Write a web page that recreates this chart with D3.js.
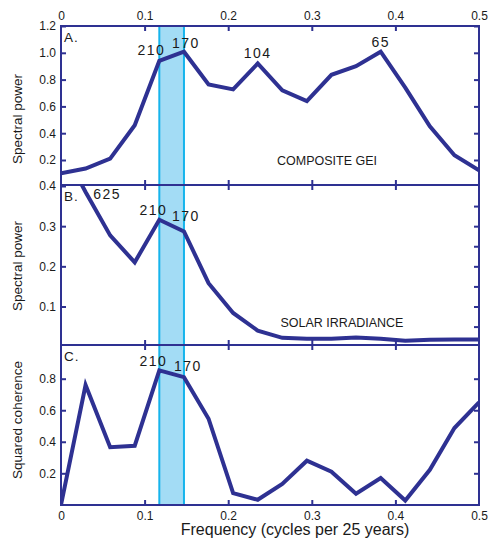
<!DOCTYPE html>
<html>
<head>
<meta charset="utf-8">
<script src="https://cdn.jsdelivr.net/npm/d3@7"></script>
<style>
  html, body { margin: 0; padding: 0; background: #fff; }
  svg { display: block; font-family: "Liberation Sans", Arial, Helvetica, sans-serif; }
</style>
</head>
<body>
<svg id="chart" width="491" height="539"></svg>
<script>
// frequencies, cycles per 25 years
const freq = [0, 0.0294, 0.0588, 0.0882, 0.1176, 0.1471, 0.1765, 0.2059, 0.2353,
  0.2647, 0.2941, 0.3235, 0.3529, 0.3824, 0.4118, 0.4412, 0.4706, 0.5];

const compositeGei = [0.10, 0.136, 0.21, 0.46, 0.94, 1.008, 0.764, 0.727, 0.92,
  0.72, 0.64, 0.836, 0.90, 1.008, 0.74, 0.452, 0.235, 0.123];
const solarIrradiance = [0.5, 0.385, 0.277, 0.21, 0.316, 0.287, 0.158, 0.084, 0.04,
  0.022, 0.02, 0.02, 0.023, 0.02, 0.015, 0.017, 0.018, 0.018];
const coherence = [0, 0.76, 0.366, 0.375, 0.853, 0.81, 0.546, 0.074, 0.032,
  0.133, 0.28, 0.21, 0.07, 0.17, 0.027, 0.222, 0.487, 0.65];

const band = [0.1176, 0.1471]; // 210 - 170 year band
const xTicks = [0, 0.1, 0.2, 0.3, 0.4, 0.5];
const xTickLabels = ["0", "0.1", "0.2", "0.3", "0.4", "0.5"];
const yTicksA = [0.2, 0.4, 0.6, 0.8, 1.0, 1.2];
const yTicksB = [0.1, 0.2, 0.3, 0.4];
const yTicksBRight = [0.05, 0.1, 0.15, 0.2, 0.25, 0.3, 0.35];
const yTicksC = [0.2, 0.4, 0.6, 0.8];

const labelsA = [
  { text: "210", i: 4, dx: -8, dy: -6 },
  { text: "170", i: 5, dx: 2, dy: -4 },
  { text: "104", i: 8, dx: 0, dy: -6 },
  { text: "65", i: 13, dx: 0, dy: -5 }
];
const labelsB = [
  { text: "625", i: 2, dx: -3, dy: -36 },
  { text: "210", i: 4, dx: -6, dy: -5 },
  { text: "170", i: 5, dx: 2, dy: -10 }
];
const labelsC = [
  { text: "210", i: 4, dx: -6, dy: -4 },
  { text: "170", i: 5, dx: 4, dy: -6 }
];

const ink = "#2e3192";
const left = 61, right = 479;
const svg = d3.select("#chart");

const x = d3.scaleLinear().domain([0, 0.5]).range([left, right]);

const panels = [
  { id: "A", top: 26, bottom: 185, y: d3.scaleLinear().domain([0.2, 1.2]).range([160, 26]),
    data: compositeGei, ticks: yTicksA, rticks: yTicksA, labels: labelsA,
    note: "COMPOSITE GEI", noteX: 327, noteY: 165, title: "Spectral power", titleY: 119 },
  { id: "B", top: 185, bottom: 345, y: d3.scaleLinear().domain([0.1, 0.4]).range([306.5, 186]),
    data: solarIrradiance, ticks: yTicksB, rticks: yTicksBRight, labels: labelsB,
    note: "SOLAR IRRADIANCE", noteX: 342, noteY: 327, title: "Spectral power", titleY: 266 },
  { id: "C", top: 345, bottom: 505, y: d3.scaleLinear().domain([0.2, 0.8]).range([473.3, 378.7]),
    data: coherence, ticks: yTicksC, rticks: yTicksC, labels: labelsC,
    note: null, title: "Squared coherence", titleY: 420 }
];

// highlighted band through all three panels
svg.append("rect")
  .attr("x", x(band[0]))
  .attr("y", panels[0].top)
  .attr("width", x(band[1]) - x(band[0]))
  .attr("height", panels[2].bottom - panels[0].top)
  .attr("fill", "#a3dcf5");
band.forEach(f => {
  svg.append("line")
    .attr("x1", x(f)).attr("x2", x(f))
    .attr("y1", panels[0].top).attr("y2", panels[2].bottom)
    .attr("stroke", "#16b4ec").attr("stroke-width", 2);
});

const fmt = d3.format(".1f");

panels.forEach(p => {
  const g = svg.append("g");

  g.append("clipPath").attr("id", "clip" + p.id)
    .append("rect").attr("x", left).attr("y", p.top)
    .attr("width", right - left).attr("height", p.bottom - p.top);

  const line = d3.line().x((d, i) => x(freq[i])).y(d => p.y(d));
  g.append("path")
    .datum(p.data)
    .attr("clip-path", "url(#clip" + p.id + ")")
    .attr("d", line)
    .attr("fill", "none")
    .attr("stroke", ink)
    .attr("stroke-width", 4)
    .attr("stroke-linejoin", "miter");

  // panel letter on white patch
  g.append("rect").attr("x", left + 1).attr("y", p.top + 2)
    .attr("width", 18).attr("height", 17).attr("fill", "#fff");
  g.append("text").attr("x", left + 3).attr("y", p.top + 16)
    .attr("font-size", 13.5).attr("letter-spacing", 1).attr("fill", "#1a1a1a")
    .text(p.id + ".");

  // peak labels
  g.selectAll(".peak")
    .data(p.labels)
    .join("text")
    .attr("x", d => x(freq[d.i]) + d.dx)
    .attr("y", d => p.y(p.data[d.i]) + d.dy)
    .attr("text-anchor", "middle")
    .attr("font-size", 14)
    .attr("letter-spacing", 1.5)
    .attr("fill", "#1a1a1a")
    .text(d => d.text);

  if (p.note) {
    g.append("text").attr("x", p.noteX).attr("y", p.noteY)
      .attr("text-anchor", "middle").attr("font-size", 12.5).attr("fill", "#1a1a1a")
      .text(p.note);
  }

  // y axis title
  g.append("text")
    .attr("transform", `translate(22,${p.titleY}) rotate(-90)`)
    .attr("text-anchor", "middle")
    .attr("font-size", 13.5)
    .attr("fill", "#1a1a1a")
    .text(p.title);

  // axes
  const leftAxis = g.append("g").attr("transform", `translate(${left},0)`)
    .call(d3.axisLeft(p.y).tickValues(p.ticks).tickSize(-5).tickPadding(5).tickFormat(fmt));
  const rightAxis = g.append("g").attr("transform", `translate(${right},0)`)
    .call(d3.axisRight(p.y).tickValues(p.rticks).tickSize(-5).tickFormat(""));
  const topAxis = g.append("g").attr("transform", `translate(0,${p.top})`)
    .call(d3.axisTop(x).tickValues(xTicks.slice(1, 5)).tickSize(-5).tickFormat(""));
  const bottomAxis = g.append("g").attr("transform", `translate(0,${p.bottom})`)
    .call(d3.axisBottom(x).tickValues(xTicks.slice(1, 5)).tickSize(-5).tickFormat(""));

  [leftAxis, rightAxis, topAxis, bottomAxis].forEach(a => {
    a.select(".domain").remove();
    a.selectAll(".tick line").attr("stroke", ink).attr("stroke-width", 2);
    a.selectAll(".tick text").attr("font-size", 12).attr("fill", "#1a1a1a")
      .attr("font-family", "Liberation Sans, Arial, sans-serif");
  });

  // frame
  g.append("rect")
    .attr("x", left).attr("y", p.top)
    .attr("width", right - left).attr("height", p.bottom - p.top)
    .attr("fill", "none").attr("stroke", ink).attr("stroke-width", 2);
});

// outer frequency tick labels
const xFmt = (d, i) => xTickLabels[i];
const topLabels = svg.append("g").attr("transform", `translate(0,${panels[0].top})`)
  .call(d3.axisTop(x).tickValues(xTicks).tickSize(0).tickPadding(6).tickFormat(xFmt));
const bottomLabels = svg.append("g").attr("transform", `translate(0,${panels[2].bottom})`)
  .call(d3.axisBottom(x).tickValues(xTicks).tickSize(0).tickPadding(6).tickFormat(xFmt));
[topLabels, bottomLabels].forEach(a => {
  a.select(".domain").remove();
  a.selectAll(".tick text").attr("font-size", 12).attr("fill", "#1a1a1a")
    .attr("font-family", "Liberation Sans, Arial, sans-serif");
});

svg.append("text")
  .attr("x", 295).attr("y", 535)
  .attr("text-anchor", "middle")
  .attr("font-size", 16)
  .attr("fill", "#1a1a1a")
  .text("Frequency (cycles per 25 years)");
</script>
</body>
</html>
